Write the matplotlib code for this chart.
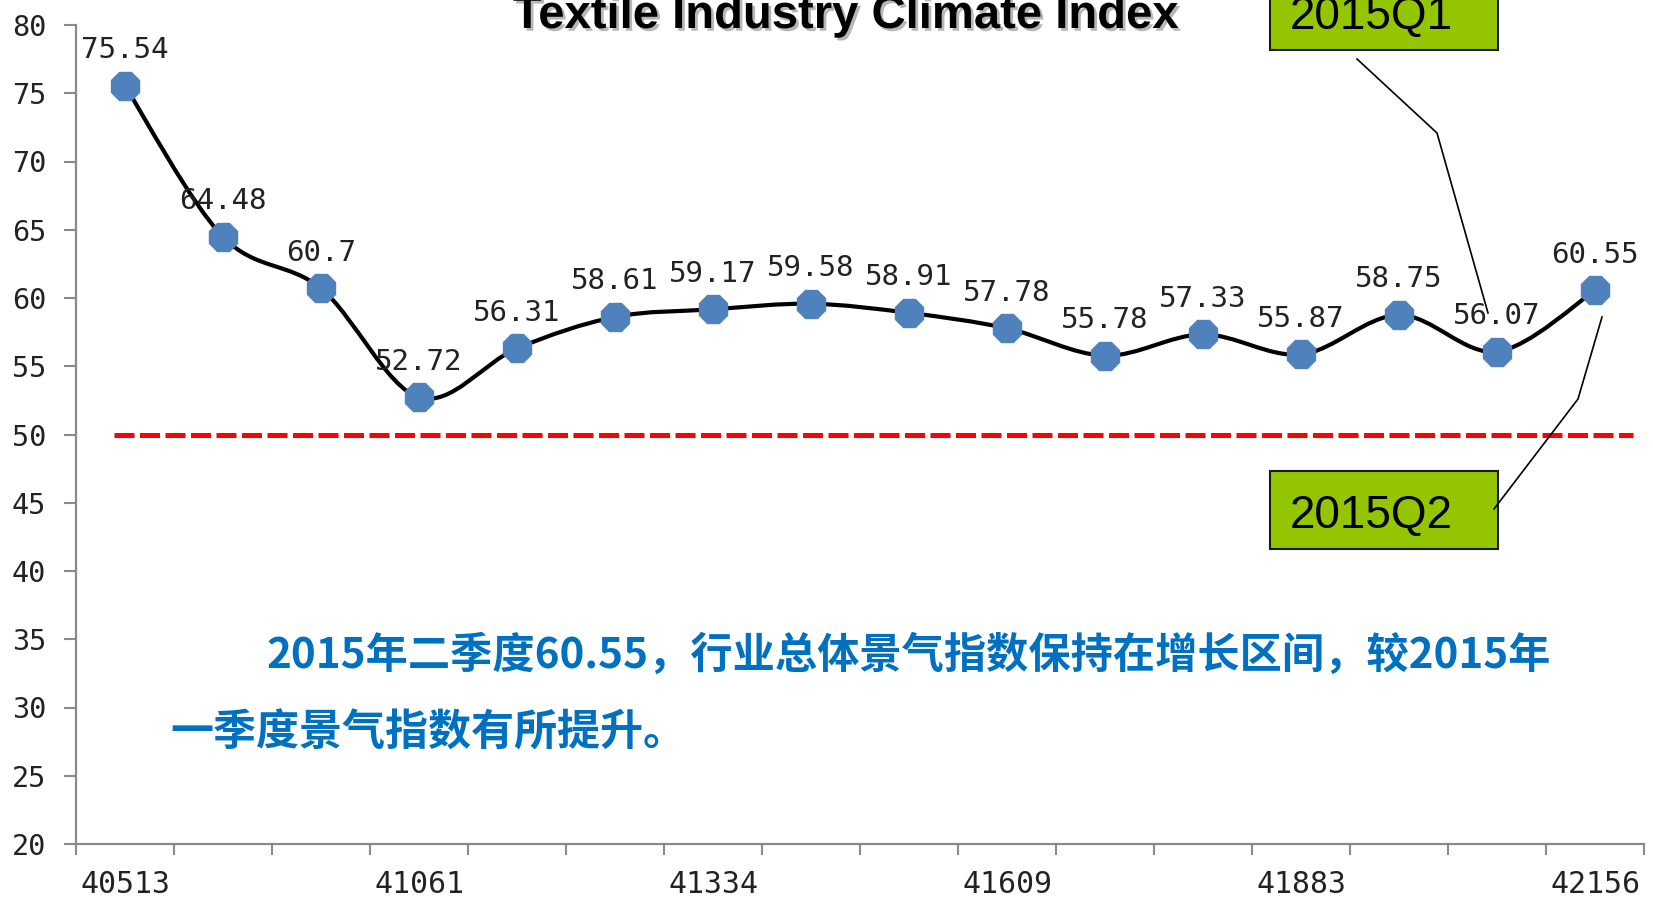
import numpy as np
import matplotlib
matplotlib.use("Agg")
import matplotlib.pyplot as plt
from matplotlib.path import Path
from matplotlib.patches import PathPatch, Rectangle
from matplotlib.lines import Line2D
import matplotlib.patheffects as pe

# quarterly climate index values
values = [75.54, 64.48, 60.7, 52.72, 56.31, 58.61, 59.17, 59.58,
          58.91, 57.78, 55.78, 57.33, 55.87, 58.75, 56.07, 60.55]
value_text = ["75.54", "64.48", "60.7", "52.72", "56.31", "58.61", "59.17", "59.58",
              "58.91", "57.78", "55.78", "57.33", "55.87", "58.75", "56.07", "60.55"]
xtick_pos = [0, 3, 6, 9, 12, 15]
xtick_labels = ["40513", "41061", "41334", "41609", "41883", "42156"]
threshold = 50

title = "Textile Industry Climate Index"
note_line1 = "2015年二季度60.55，行业总体景气指数保持在增长区间，较2015年"
note_line2 = "一季度景气指数有所提升。"
callouts = ["2015Q1", "2015Q2"]

W, H = 1653, 900
fig = plt.figure(figsize=(W / 100, H / 100), dpi=100)
ax = fig.add_axes([76 / W, 1 - 844 / H, (1644 - 76) / W, (844 - 25) / H])

def fx(px):
    return px / W

def fy(py):
    return 1 - py / H

n = len(values)
x = np.arange(n)
y = np.array(values)

# smoothed line like excel: bezier segments through the points
pts = np.column_stack([x, y]).astype(float)
verts = [pts[0]]
codes = [Path.MOVETO]
for i in range(n - 1):
    p0 = pts[i - 1] if i > 0 else pts[i]
    p1 = pts[i]
    p2 = pts[i + 1]
    p3 = pts[i + 2] if i + 2 < n else pts[i + 1]
    verts += [p1 + (p2 - p0) / 6, p2 - (p3 - p1) / 6, p2]
    codes += [Path.CURVE4] * 3
ax.add_patch(PathPatch(Path(verts, codes), fill=False, ec="black", lw=3, zorder=3))

ax.plot(x, y, ls="none", marker="8", ms=22, mfc="#4F81BD", mec="#4F81BD", zorder=4)

for xi, yi, t in zip(x, y, value_text):
    ax.annotate(t, (xi, yi), xytext=(0, 20), textcoords="offset points",
                ha="center", va="baseline", fontsize=21, family="DejaVu Sans Mono",
                color="#222222", zorder=5)

ax.axhline(threshold, xmin=0.024, xmax=0.993, color="red", lw=3.6, dashes=(4, 1.1), zorder=2)

ax.set_xlim(-0.5, n - 0.5)
ax.set_ylim(20, 80)
ax.set_yticks(range(20, 81, 5))
ax.set_xticks(np.arange(-0.5, n, 1))
ax.set_xticklabels([])
ax.set_xticks(xtick_pos, minor=True)
ax.set_xticklabels(xtick_labels, minor=True)

for s in ["top", "right"]:
    ax.spines[s].set_visible(False)
for s in ["left", "bottom"]:
    ax.spines[s].set_color("#8a8a8a")
    ax.spines[s].set_linewidth(1.6)

ax.tick_params(axis="y", length=8.5, width=1.5, color="#8a8a8a", pad=13, labelsize=20.5)
ax.tick_params(axis="x", which="major", length=8, width=1.5, color="#8a8a8a")
ax.tick_params(axis="x", which="minor", length=0, pad=19, labelsize=21.5)
for lab in ax.get_yticklabels() + ax.get_xticklabels(minor=True):
    lab.set_family("DejaVu Sans Mono")
    lab.set_color("#222222")

# title with drop shadow, cut at top like the original
fig.text(fx(846), fy(28), title, ha="center", va="baseline", fontsize=34,
         weight="bold", family="Liberation Sans",
         path_effects=[pe.SimplePatchShadow(offset=(2, -2), shadow_rgbFace="#888888", alpha=0.6),
                       pe.Normal()])

# note text
cjk = ["Noto Sans CJK SC", "DejaVu Sans"]
fig.text(fx(266), fy(656), note_line1, ha="left", va="center", fontsize=30.4,
         weight="bold", color="#0070C0", family=cjk)
fig.text(fx(170), fy(732), note_line2, ha="left", va="center", fontsize=31,
         weight="bold", color="#0070C0", family=cjk)

# callout boxes
box_tops = [-20, 471]
box_bottoms = [50, 549]
text_base = [29, 528]
for lab, top, bot, tb in zip(callouts, box_tops, box_bottoms, text_base):
    fig.add_artist(Rectangle((fx(1270), fy(bot)), (1498 - 1270) / W, (bot - top) / H,
                             transform=fig.transFigure, fc="#94C600", ec="#1a1a1a", lw=1.5, zorder=6))
    fig.text(fx(1290), fy(tb), lab, ha="left", va="baseline", fontsize=33,
             family="Liberation Sans", color="black", zorder=7)

leader1 = ([1357, 1437, 1488], [59, 133, 313])
leader2 = ([1494, 1578, 1602], [509, 399, 317])
for lx, ly in [leader1, leader2]:
    fig.add_artist(Line2D([fx(v) for v in lx], [fy(v) for v in ly],
                          transform=fig.transFigure, color="black", lw=1.2, zorder=6))

fig.savefig("out.png", dpi=100)
